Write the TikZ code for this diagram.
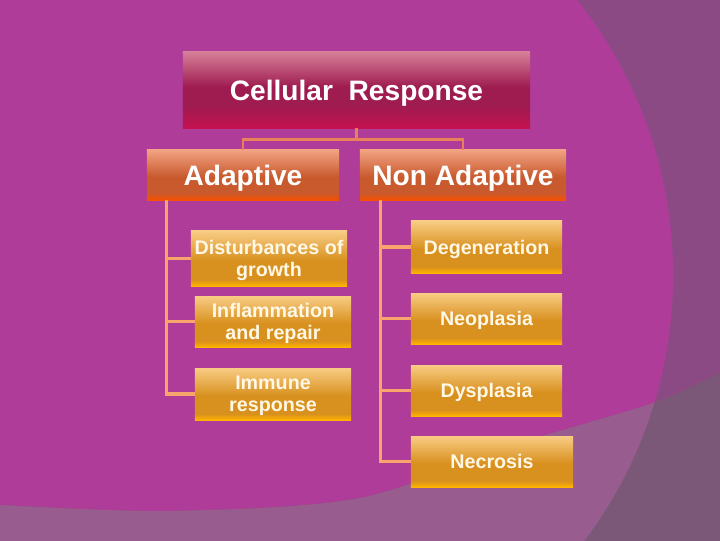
\documentclass[tikz,border=0pt]{standalone}
\usepackage{fontspec}
\setmainfont{Liberation Sans}
\definecolor{bgmain}{HTML}{AF3C98}
\definecolor{bgdark}{HTML}{8C4A84}
\definecolor{bgband}{HTML}{985C8E}
\definecolor{bgcorner}{HTML}{7C5878}
\definecolor{celltop}{HTML}{D67E98}
\definecolor{cellmid}{HTML}{9E1C50}
\definecolor{cellbot}{HTML}{C4124F}
\definecolor{tiertop}{HTML}{F2A282}
\definecolor{tiermid}{HTML}{C85A2E}
\definecolor{tierbot}{HTML}{F85000}
\definecolor{leaftop}{HTML}{F8CC84}
\definecolor{leafmid}{HTML}{D8901E}
\definecolor{leafbot}{HTML}{FFB400}
\definecolor{leaftext}{HTML}{FFF8E6}
\definecolor{linkred}{HTML}{E8805C}
\definecolor{linkorange}{HTML}{F7A56C}
\pgfdeclareverticalshading{cellshade}{100bp}{color(0bp)=(cellbot); color(25bp)=(cellbot); color(40bp)=(cellmid); color(52bp)=(cellmid); color(75bp)=(celltop); color(100bp)=(celltop)}
\pgfdeclareverticalshading{tiershade}{100bp}{color(0bp)=(tierbot); color(25bp)=(tierbot); color(32bp)=(tiermid); color(48bp)=(tiermid); color(75bp)=(tiertop); color(100bp)=(tiertop)}
\pgfdeclareverticalshading{leafshade}{100bp}{color(0bp)=(leafbot); color(25bp)=(leafbot); color(31bp)=(leafmid); color(48bp)=(leafmid); color(75bp)=(leaftop); color(100bp)=(leaftop)}
\begin{document}
\begin{tikzpicture}[x=0.025cm, y=-0.025cm,
  cellbox/.style={shading=cellshade, minimum width=8.675cm, minimum height=1.9cm, inner sep=0pt, text depth=0pt, text=white, font=\fontsize{20}{24}\selectfont\bfseries},
  tierbox/.style={shading=tiershade, minimum height=1.25cm, inner sep=0pt, text depth=0pt, text=white, font=\fontsize{20}{24}\selectfont\bfseries},
  leafbox/.style={shading=leafshade, minimum width=3.9cm, minimum height=1.3cm, inner sep=0pt, text depth=0pt, align=center, text=leaftext, font=\fontsize{14}{15.6}\selectfont\bfseries},
  toplink/.style={draw=linkred, line width=2pt},
  sublink/.style={draw=linkorange, line width=2.2pt}]
\useasboundingbox (0,0) rectangle (720,540);
\fill[bgdark] (-10,-10) rectangle (730,550);
\begin{scope}
\clip (-10,-10) rectangle (730,550);
\fill[bgmain] (231,275) circle[radius=11.05cm];
\clip plot[smooth] coordinates {(-10,504) (0,505) (170,511) (360,498) (520,443) (653,403) (720,373) (730,368)} -- (730,550) -- (-10,550) -- cycle;
\fill[bgcorner] (-10,-10) rectangle (730,550);
\fill[bgband] (231,275) circle[radius=11.05cm];
\end{scope}
\node[cellbox] (cell) at (356.5,90) {Cellular\ \ Response};
\node[tierbox, minimum width=4.8cm] (adapt) at (243,175) {Adaptive};
\node[tierbox, minimum width=5.15cm] (nonadapt) at (463,175) {Non Adaptive};
\node[leafbox, minimum height=1.375cm] (dist) at (269,258.5) {Disturbances of\\growth};
\node[leafbox, minimum height=1.275cm] (infl) at (273,321.5) {Inflammation\\and repair};
\node[leafbox] (immune) at (273,394) {Immune\\response};
\node[leafbox, minimum width=3.775cm] (degen) at (486.5,247) {Degeneration};
\node[leafbox, minimum width=3.775cm, minimum height=1.275cm] (neo) at (486.5,318.5) {Neoplasia};
\node[leafbox, minimum width=3.775cm, minimum height=1.275cm] (dysp) at (486.5,390.5) {Dysplasia};
\node[leafbox, minimum width=4.05cm, minimum height=1.275cm] (necro) at (492,461.5) {Necrosis};
\coordinate (split) at ([yshift=-0.275cm]cell.south);
\draw[toplink] (cell.south) -- (split) -| (adapt.north);
\draw[toplink] (split) -| (nonadapt.north);
\coordinate (trunkA) at ([xshift=0.5cm]adapt.south west);
\coordinate (trunkB) at ([xshift=0.525cm]nonadapt.south west);
\draw[sublink] (trunkA) |- (immune.west);
\draw[sublink] (trunkA |- dist.west) -- (dist.west);
\draw[sublink] (trunkA |- infl.west) -- (infl.west);
\draw[sublink] (trunkB) |- (necro.west);
\foreach \leaf in {degen,neo,dysp}
  \draw[sublink] (trunkB |- \leaf.west) -- (\leaf.west);
\end{tikzpicture}
\end{document}
